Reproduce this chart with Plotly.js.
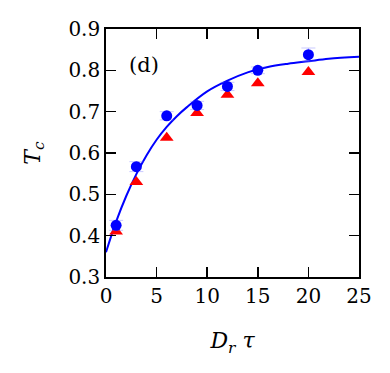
<!DOCTYPE html>
<html>
<head>
<meta charset="utf-8">
<script src="https://cdn.plot.ly/plotly-3.0.1.min.js"></script>
<style>html,body{margin:0;padding:0;background:#fff;}#chart{width:390px;height:373px;}</style>
</head>
<body>
<div id="chart"></div>
<script>
// Data
const drTau = [1, 3, 6, 9, 12, 15, 20];
const tcCircles = [0.425, 0.567, 0.690, 0.715, 0.761, 0.800, 0.838];
const tcCircleErr = [0.012, 0.012, 0.010, 0.010, 0.010, 0.008, 0.016];
const tcTriangles = [0.410, 0.530, 0.637, 0.697, 0.741, 0.769, 0.796];
const fitX = [0, 1, 2, 3, 4, 5, 6, 7, 8, 10, 12, 14, 16, 18, 20, 22, 25];
const fitY = [0.360, 0.434, 0.496, 0.549, 0.594, 0.632, 0.663, 0.689, 0.711, 0.749, 0.775, 0.795, 0.808, 0.816, 0.822, 0.828, 0.833];
const xTicks = [0, 5, 10, 15, 20, 25];
const yTicks = [0.3, 0.4, 0.5, 0.6, 0.7, 0.8, 0.9];

const font = 'DejaVu Serif, serif';

const traces = [
  {x: fitX, y: fitY, mode: 'lines', line: {color: '#0000ff', width: 2, shape: 'spline'}, hoverinfo: 'skip'},
  {x: drTau, y: tcTriangles, mode: 'markers', marker: {symbol: 'triangle-up', size: 12, color: '#ff0000'}},
  {x: drTau, y: tcCircles, mode: 'markers', marker: {symbol: 'circle', size: 11, color: '#0000ff'},
   error_y: {type: 'data', array: tcCircleErr, visible: true, color: 'rgba(120,120,255,0.4)', thickness: 1, width: 7}}
];

const axisCommon = {
  showgrid: false, zeroline: false, showline: true, mirror: 'ticks',
  linecolor: '#000', linewidth: 1.8, ticks: 'inside', ticklen: 10, tickwidth: 1.5, tickcolor: '#000',
  tickfont: {family: font, size: 20, color: '#000'}
};

const layout = {
  width: 390, height: 373,
  margin: {l: 106, r: 31, t: 29, b: 96},
  paper_bgcolor: '#fff', plot_bgcolor: '#fff',
  showlegend: false,
  xaxis: Object.assign({}, axisCommon, {range: [0, 25], tickvals: xTicks, ticktext: xTicks.map(String),
    title: {text: '<i>D</i><sub><i>r</i></sub> <i>τ</i>', font: {family: font, size: 22, color: '#000'}, standoff: 26}}),
  yaxis: Object.assign({}, axisCommon, {range: [0.3, 0.9], tickvals: yTicks, ticktext: yTicks.map(v => v.toFixed(1)),
    title: {text: '<i>T</i><sub><i>c</i></sub>', font: {family: font, size: 22, color: '#000'}, standoff: 22}}),
  annotations: [{x: 2.05, y: 0.813, xref: 'x', yref: 'y', text: '(d)', showarrow: false, xanchor: 'left', yanchor: 'middle',
    font: {family: font, size: 21, color: '#000'}}]
};

Plotly.newPlot('chart', traces, layout, {displayModeBar: false, staticPlot: true});
</script>
</body>
</html>
